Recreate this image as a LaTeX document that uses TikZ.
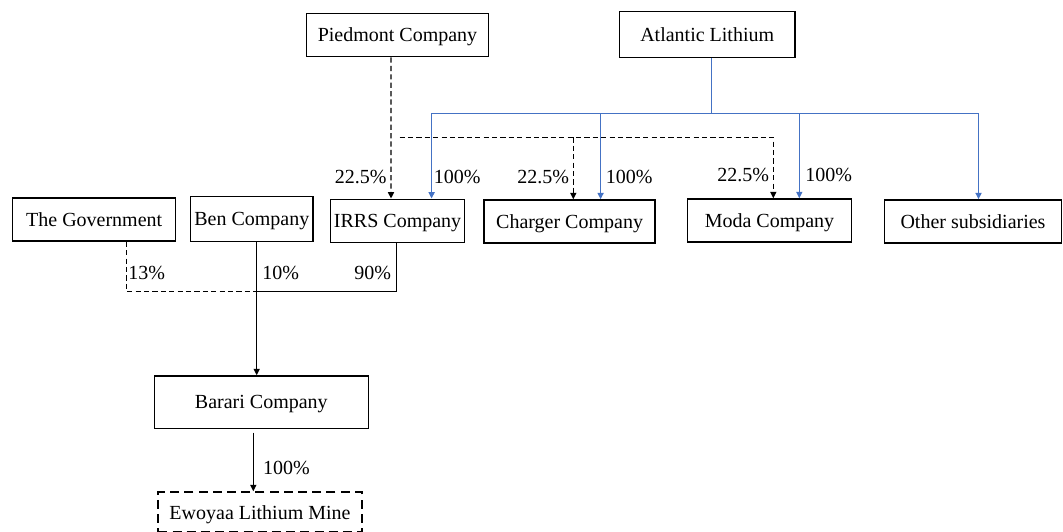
\documentclass[tikz,border=0pt]{standalone}
\usepackage{fontspec}
\setmainfont{Liberation Serif}
\usepackage{tikz}
\usetikzlibrary{arrows.meta, positioning, calc}

\definecolor{ownblue}{HTML}{4472C4}

\begin{document}
\begin{tikzpicture}[x=0.5pt, y=-0.5pt, >={Triangle[width=3pt,length=3.2pt]},
    every node/.style={font=\normalsize},
    company/.style={draw, line width=0.75pt, inner sep=0pt, text depth=0pt, align=center},
    pct/.style={inner sep=0pt},
    own/.style={draw=ownblue, line width=0.75pt},
    share/.style={line width=0.65pt, dash pattern=on 2.6pt off 1.6pt},
    solid line/.style={line width=0.7pt}]
    \path[use as bounding box, clip] (0,0) rectangle (1063,531);

    % helper levels
    \coordinate (busA) at (0,113.3);
    \coordinate (busP) at (0,137.3);
    \coordinate (busB) at (0,291.7);

    \node[company, minimum width=90.8pt, minimum height=21.7pt] (piedmont) at (397.5,35) {Piedmont Company};
    \node[company, minimum width=87.8pt, minimum height=22.8pt] (atlantic) at (707.2,34.5) {Atlantic Lithium};

    \node[company, minimum width=81.5pt, minimum height=21.5pt] (gov) at (94.2,219.5) {The Government};
    \node[company, minimum width=61.2pt, minimum height=22.5pt] (ben) at (251.8,219.2) {Ben Company};
    \node[company, minimum width=66.9pt, minimum height=21.5pt] (irrs) at (397.6,220.8) {IRRS Company};
    \node[company, minimum width=85.4pt, minimum height=21.5pt] (charger) at (569.6,221.5) {Charger Company};
    \node[company, minimum width=81.8pt, minimum height=21.5pt] (moda) at (769.5,220.5) {Moda Company};
    \node[company, minimum width=88.5pt, minimum height=21.5pt] (other) at (973,221.5) {Other subsidiaries};

    \node[company, minimum width=107pt, minimum height=26.2pt] (barari) at (261.3,402.2) {Barari Company};
    \node[company, dash pattern=on 4.5pt off 2.6pt, line width=1pt, minimum width=101.7pt, minimum height=20pt] (ewoyaa) at (260,512.3) {Ewoyaa Lithium Mine};

    % Atlantic Lithium holdings
    \draw[own] ([xshift=2.25pt]atlantic.south) -- ([xshift=2.25pt]atlantic.south |- busA);
    \draw[own,->] ([xshift=2.25pt]atlantic.south |- busA) -| ([xshift=17pt]irrs.north);
    \draw[own,->] ([xshift=2.25pt]atlantic.south |- busA) -| ([xshift=15.5pt]charger.north);
    \draw[own,->] ([xshift=2.25pt]atlantic.south |- busA) -| ([xshift=14.9pt]moda.north);
    \draw[own,->] ([xshift=2.25pt]atlantic.south |- busA) -| ([xshift=2.75pt]other.north);

    % Piedmont holdings
    \draw[share,->] ([xshift=-3.3pt]piedmont.south) -- ([xshift=-3.3pt]irrs.north);
    \draw[share,->] ([xshift=1pt]piedmont.south |- busP) -| ([xshift=1.9pt]moda.north);
    \draw[share,->] ([xshift=1.85pt]charger.north |- busP) -- ([xshift=1.85pt]charger.north);

    % Barari shareholders
    \draw[share] ([xshift=16.25pt]gov.south) |- ([xshift=2.45pt]ben.south |- busB);
    \draw[solid line] ([xshift=-0.45pt]irrs.south) |- ([xshift=2.45pt]ben.south |- busB);
    \draw[solid line,->] ([xshift=2.45pt]ben.south) -- ([xshift=2.45pt]ben.south |- barari.north);
    \draw[solid line,->] ([xshift=-4pt,yshift=-1.7pt]barari.south) -- ([xshift=-4pt]barari.south |- ewoyaa.north);

    % percentages
    \node[pct, anchor=east] (pIrrs) at (387,177) {22.5\%};
    \node[pct, anchor=west] (aIrrs) at (433.5,177) {100\%};
    \node[pct, anchor=east] (pCharger) at (569.5,177) {22.5\%};
    \node[pct, anchor=west] (aCharger) at (605.5,177) {100\%};
    \node[pct, anchor=east] (pModa) at (769.5,175) {22.5\%};
    \node[pct, anchor=west] (aModa) at (805,175) {100\%};
    \node[pct, anchor=west] (sGov) at (128,272.7) {13\%};
    \node[pct, anchor=west] (sBen) at (262,272.7) {10\%};
    \node[pct, anchor=east] (sIrrs) at (391.5,272.7) {90\%};
    \node[pct, anchor=west] (sBarari) at (262.7,468.3) {100\%};
\end{tikzpicture}
\end{document}
